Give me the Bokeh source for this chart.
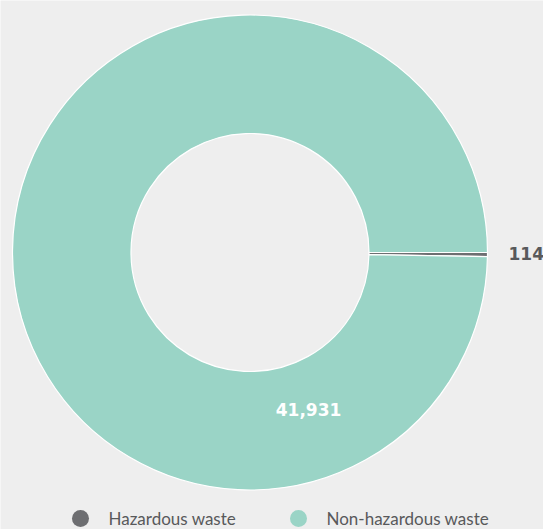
import math
from bokeh.plotting import figure
from bokeh.models import Range1d, ColumnDataSource
from bokeh.core.properties import value
from bokeh.embed import file_html
from bokeh.resources import INLINE

categories = ["Hazardous waste", "Non-hazardous waste"]
values = [114, 41931]
labels = ["114", "41,931"]
colors = ["#6d6e71", "#9ad4c6"]

W, H = 543, 529
cx, cy = 249.5, 277.0
r_out, r_in = 237.5, 119.0

total = float(sum(values))
starts, ends = [], []
cum = 0.0
for v in values:
    ends.append(-cum / total * 2 * math.pi)
    cum += v
    starts.append(-cum / total * 2 * math.pi)

p = figure(width=W, height=H, output_backend="svg", toolbar_location=None,
           x_range=Range1d(0, W), y_range=Range1d(0, H),
           min_border=0, background_fill_color="#eeeeee",
           border_fill_color="#eeeeee", outline_line_color=None)
p.axis.visible = False
p.grid.visible = False

src = ColumnDataSource(dict(start=starts, end=ends, color=colors, cat=categories))
p.annular_wedge(x=cx, y=cy, inner_radius=r_in, outer_radius=r_out,
                start_angle="start", end_angle="end", fill_color="color",
                line_color="white", line_width=1.2, source=src)

# data labels
p.text(x=[cx + r_out + 21], y=[cy - 1], text=[labels[0]], text_align="left",
       text_baseline="middle", text_font=value("DejaVu Sans"), text_font_style="bold",
       text_font_size="17px", text_color="#58595b")
ang = math.radians(-69.6)
p.text(x=[cx + 168 * math.cos(ang)], y=[cy + 168 * math.sin(ang)], text=[labels[1]],
       text_align="center", text_baseline="middle", text_font=value("DejaVu Sans"),
       text_font_style="bold", text_font_size="17px", text_color="#ffffff")

# legend
leg_x = [80, 298]
leg_y = [11, 11]
p.scatter(x=leg_x, y=leg_y, size=17, marker="circle", fill_color=colors, line_color=None)
p.text(x=[x + 28 for x in leg_x], y=leg_y, text=categories, text_align="left",
       text_baseline="middle", text_font=value("Lato"),
       text_font_size="17px", text_color="#58595b")

open("out.html", "w").write(file_html(p, INLINE))
